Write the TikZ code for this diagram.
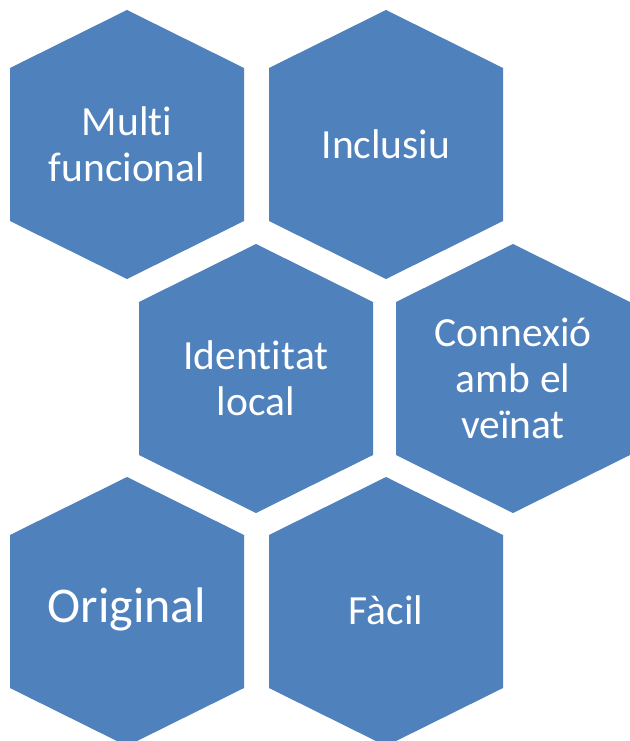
\documentclass[tikz,border=0pt]{standalone}
\usepackage{fontspec}
\setmainfont{Carlito}[Ligatures={NoCommon}]
\definecolor{hexblue}{HTML}{4F81BD}
\newcommand{\nl}{\kern0pt{}}
\tikzset{
  hexfill/.style={fill=hexblue},
  hextext/.style={text=white, align=center, inner sep=0pt,
    font=\fontsize{41.5}{46}\selectfont},
  bigtext/.style={hextext, font=\fontsize{50}{58}\selectfont}
}
\newcommand{\hexshape}[2]{%
  \fill[hexfill] (#1,#2) ++(0,-134.5) -- ++(117,58) -- ++(0,153) -- ++(-117,58)
    -- ++(-117,-58) -- ++(0,-153) -- cycle;}
\begin{document}
\begin{tikzpicture}[x=1pt,y=-1pt]
\useasboundingbox (0,0) rectangle (629,741);
\fill[white] (0,0) rectangle (629,741);
\hexshape{127}{144.5}
\hexshape{386}{144.5}
\hexshape{256}{378.5}
\hexshape{513}{378.5}
\hexshape{127}{611.5}
\hexshape{386}{611.5}
\node[hextext] (multi) at (127,144) {Mult\nl i\\funcional};
\node[hextext] (inclusiu) at (386,144) {Inclusiu};
\node[hextext] (identitat) at (256,378) {Ident\nl it\nl at\\local};
\node[hextext] (connexio) at (513,378) {Connexió\\amb el\\veïnat};
\node[bigtext] (original) at (127,609) {Original};
\node[hextext] (facil) at (386,610) {Fàcil};
\end{tikzpicture}
\end{document}
